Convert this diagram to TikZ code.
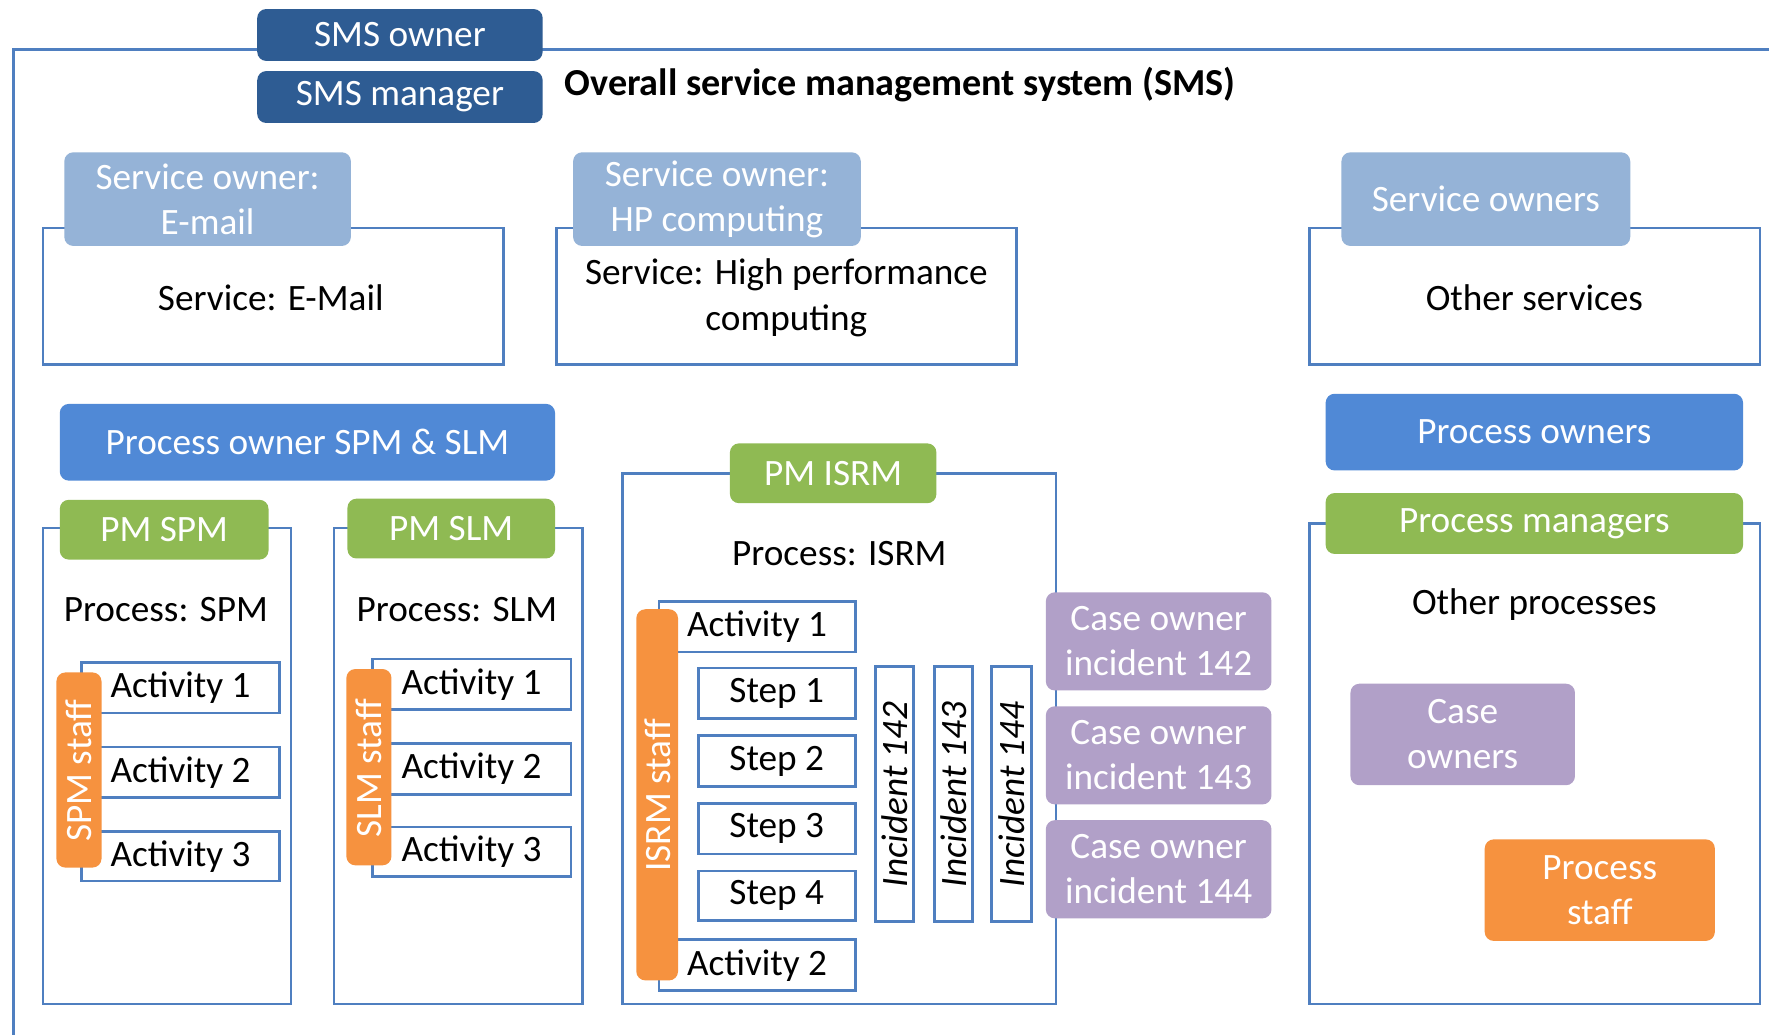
\documentclass[tikz,border=0pt]{standalone}
\usepackage{fontspec}
\setmainfont{Carlito}
\definecolor{smsblue}{HTML}{2E5C93}
\definecolor{svcblue}{HTML}{95B3D7}
\definecolor{poblue}{HTML}{5089D6}
\definecolor{pmgreen}{HTML}{8FBA53}
\definecolor{staffor}{HTML}{F6923F}
\definecolor{casepur}{HTML}{B1A0C8}
\definecolor{lineblue}{HTML}{4F7FC0}
\tikzset{
  frame/.style={draw=lineblue, line width=1.2pt, fill=white, inner sep=0pt},
  role/.style={rounded corners=4pt, inner sep=0pt, text=white, align=center, font=\fontsize{16.5}{20}\selectfont},
  smsrole/.style={role, fill=smsblue},
  svcrole/.style={role, fill=svcblue},
  porole/.style={role, fill=poblue},
  pmrole/.style={role, fill=pmgreen},
  staffrole/.style={role, fill=staffor},
  caserole/.style={role, fill=casepur},
  plain/.style={frame, align=center, font=\fontsize{16.5}{20}\selectfont},
  lbl/.style={inner sep=0pt, align=center, font=\fontsize{16.5}{20.5}\selectfont},
  inc/.style={frame, font=\fontsize{16.5}{20}\itshape\selectfont}
}
\newcommand\bx[7]{\node[#6, minimum width={(#4-#2)*0.5pt}, minimum height={(#5-#3)*0.5pt}] (#1) at ({(#2+#4)/2},{(#3+#5)/2}) {#7};}
\begin{document}
\begin{tikzpicture}[x=0.5pt,y=-0.5pt]
\clip (0,0) rectangle (1568,917);
\fill[white] (0,0) rectangle (1568,917);
% outer frame
\bx{sms}{12}{44}{1620}{960}{frame}{}
\bx{smsowner}{228}{8}{481}{54}{smsrole}{SMS owner}
\bx{smsmanager}{228}{63}{481}{109}{smsrole}{SMS manager}
\node[anchor=west, inner sep=0pt, font=\fontsize{16.9}{19}\bfseries\selectfont] (smstitle) at (500,75) {Overall service management system (SMS)};
% services
\bx{svcmail}{38}{202}{446}{323}{frame}{}
\node[lbl] (svcmailt) at (240,264) {Service: E-Mail};
\bx{somail}{57}{135}{311}{218}{svcrole}{Service owner:\\E-mail}
\bx{svchpc}{493}{202}{901}{323}{frame}{}
\node[lbl] (svchpct) at (697,264) {Service: High performance\\computing};
\bx{sohpc}{508}{135}{763}{218}{svcrole}{Service owner:\\HP computing}
\bx{svcother}{1161}{202}{1560}{323}{frame}{}
\node[lbl] (svcothert) at (1360,264) {Other services};
\bx{soother}{1189}{135}{1445}{218}{svcrole}{Service owners}
% process owner SPM & SLM
\bx{poss}{53}{358}{492}{426}{porole}{Process owner SPM \& SLM}
% SPM
\bx{pspm}{38}{468}{258}{890}{frame}{}
\node[lbl] (pspmt) at (147,540) {Process: SPM};
\bx{spma1}{72}{587}{248}{632}{plain}{Activity 1}
\bx{spma2}{72}{662}{248}{707}{plain}{Activity 2}
\bx{spma3}{72}{737}{248}{781}{plain}{Activity 3}
\bx{spmstaff}{50}{596}{90}{769}{staffrole}{}
\node[lbl, text=white, rotate=90] (spmstafft) at (70,683) {SPM staff};
\bx{pmspm}{53}{443}{238}{496}{pmrole}{PM SPM}
% SLM
\bx{pslm}{296}{468}{516}{890}{frame}{}
\node[lbl] (pslmt) at (405,540) {Process: SLM};
\bx{slma1}{330}{584}{506}{629}{plain}{Activity 1}
\bx{slma2}{330}{659}{506}{704}{plain}{Activity 2}
\bx{slma3}{330}{733}{506}{777}{plain}{Activity 3}
\bx{slmstaff}{307}{593}{347}{767}{staffrole}{}
\node[lbl, text=white, rotate=90] (slmstafft) at (327,681) {SLM staff};
\bx{pmslm}{308}{442}{492}{495}{pmrole}{PM SLM}
% ISRM
\bx{pisrm}{552}{420}{936}{890}{frame}{}
\node[lbl] (pisrmt) at (744,491) {Process: ISRM};
\bx{isa1}{584}{533}{758}{578}{plain}{Activity 1}
\bx{iss1}{619}{592}{758}{637}{plain}{Step 1}
\bx{iss2}{619}{652}{758}{697}{plain}{Step 2}
\bx{iss3}{619}{712}{758}{757}{plain}{Step 3}
\bx{iss4}{619}{772}{758}{816}{plain}{Step 4}
\bx{isa2}{584}{833}{758}{878}{plain}{Activity 2}
\bx{isstaff}{564}{540}{601}{869}{staffrole}{}
\node[lbl, text=white, rotate=90] (isstafft) at (583,705) {ISRM staff};
\bx{inc142}{776}{591}{810}{817}{frame}{}
\bx{inc143}{828}{591}{862}{817}{frame}{}
\bx{inc144}{879}{591}{914}{817}{frame}{}
\node[lbl, rotate=90, font=\fontsize{16.5}{20}\itshape\selectfont] (inc142t) at (inc142) {Incident 142};
\node[lbl, rotate=90, font=\fontsize{16.5}{20}\itshape\selectfont] (inc143t) at (inc143) {Incident 143};
\node[lbl, rotate=90, font=\fontsize{16.5}{20}\itshape\selectfont] (inc144t) at (inc144) {Incident 144};
\bx{pmisrm}{647}{393}{830}{446}{pmrole}{PM ISRM}
\bx{co142}{927}{525}{1127}{612}{caserole}{Case owner\\incident 142}
\bx{co143}{927}{626}{1127}{713}{caserole}{Case owner\\incident 143}
\bx{co144}{927}{727}{1127}{814}{caserole}{Case owner\\incident 144}
% other processes
\bx{pother}{1161}{464}{1560}{890}{frame}{}
\node[lbl] (pothert) at (1360,536) {Other processes};
\bx{poothers}{1175}{349}{1545}{417}{porole}{Process owners}
\bx{pmothers}{1175}{437}{1545}{491}{pmrole}{Process managers}
\bx{coothers}{1197}{606}{1396}{696}{caserole}{Case\\owners}
\bx{psothers}{1316}{744}{1520}{834}{staffrole}{Process\\staff}
\end{tikzpicture}
\end{document}
